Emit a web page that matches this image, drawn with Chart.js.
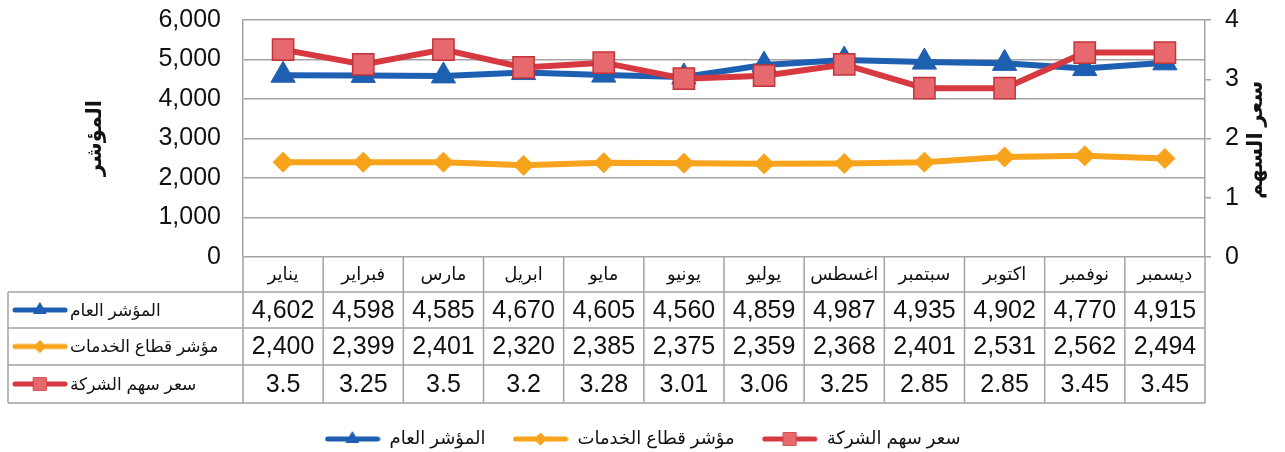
<!DOCTYPE html>
<html><head><meta charset="utf-8">
<script src="https://cdn.jsdelivr.net/npm/chart.js@4.4.1/dist/chart.umd.min.js"></script>
<style>html,body{margin:0;padding:0;background:#fff}#w{width:1285px;height:452px}</style>
</head><body><div id="w"><canvas id="c" width="1285" height="452"></canvas></div>
<script>
const months = ['يناير','فبراير','مارس','ابريل','مايو','يونيو','يوليو','اغسطس','سبتمبر','اكتوبر','نوفمبر','ديسمبر'];
const generalIndex = [4602,4598,4585,4670,4605,4560,4859,4987,4935,4902,4770,4915];
const servicesIndex = [2400,2399,2401,2320,2385,2375,2359,2368,2401,2531,2562,2494];
const sharePrice = [3.5,3.25,3.5,3.2,3.28,3.01,3.06,3.25,2.85,2.85,3.45,3.45];
const seriesNames = ['المؤشر العام','مؤشر قطاع الخدمات','سعر سهم الشركة'];
const leftTitle = 'المؤشر';
const rightTitle = 'سعر السهم';
const leftRange = [0, 6000, 1000];
const rightRange = [0, 4, 1];

const FONT = '"Liberation Sans", Arial, "DejaVu Sans", sans-serif';
const BLUE = '#1d5fb0', ORANGE = '#f7a31c', RED = '#d6393f';
const RED_FILL = '#e5696d', RED_EDGE = '#c3333a';
const GRID = '#a3a3a3';
const PLOT_TOP = 20;

function makeIconStyled(color, style, r, fill, edge) {
  const cv = document.createElement('canvas');
  cv.width = 56; cv.height = 22;
  const g = cv.getContext('2d');
  g.strokeStyle = color; g.lineWidth = 5; g.lineCap = 'round';
  g.beginPath(); g.moveTo(3, 11); g.lineTo(53, 11); g.stroke();
  g.fillStyle = fill; g.strokeStyle = edge; g.lineWidth = 1;
  Chart.helpers.drawPoint(g, {pointStyle: style, radius: r, borderWidth: 1}, 28, 11);
  g.fill();
  return cv;
}
function iconFor(i) {
  if (i === 0) return makeIconStyled(BLUE, 'triangle', 7, BLUE, BLUE);
  if (i === 1) return makeIconStyled(ORANGE, 'rectRot', 6, ORANGE, ORANGE);
  return makeIconStyled(RED, 'rect', 9, RED_FILL, RED_EDGE);
}
const icons = [0,1,2].map(iconFor);

const topFix = {
  id: 'topFix',
  afterLayout(chart) {
    ['y', 'y1'].forEach(id => {
      const s = chart.scales[id];
      s.top = PLOT_TOP; s.height = s.bottom - PLOT_TOP; s.configure();
    });
    chart.chartArea.top = PLOT_TOP;
    chart.chartArea.height = chart.chartArea.bottom - PLOT_TOP;
  }
};

const tablePlugin = {
  id: 'dataTable',
  afterDraw(chart) {
    const ctx = chart.ctx, x = chart.scales.x, ca = chart.chartArea;
    const n = months.length;
    const cw = x.getPixelForValue(1) - x.getPixelForValue(0);
    const L = x.getPixelForValue(0) - cw / 2, R = x.getPixelForValue(n - 1) + cw / 2;
    const b = ca.bottom;
    const rows = [b, b + 35, b + 71, b + 108, b + 146];
    const TL = 8;
    ctx.save();
    ctx.strokeStyle = GRID; ctx.lineWidth = 1.5;
    ctx.beginPath();
    for (let k = 1; k < rows.length; k++) { ctx.moveTo(TL, rows[k]); ctx.lineTo(R, rows[k]); }
    for (let i = 0; i <= n; i++) { const xx = L + i * cw; ctx.moveTo(xx, rows[0]); ctx.lineTo(xx, rows[4]); }
    ctx.moveTo(TL, rows[1]); ctx.lineTo(TL, rows[4]);
    ctx.stroke();
    ctx.fillStyle = '#111';
    ctx.textAlign = 'center'; ctx.textBaseline = 'middle';
    ctx.font = '18px ' + FONT;
    months.forEach((m, i) => ctx.fillText(m, x.getPixelForValue(i), (rows[0] + rows[1]) / 2 + 1));
    const vals = [generalIndex, servicesIndex, sharePrice];
    ctx.font = '25px ' + FONT;
    vals.forEach((arr, r) => {
      const yy = (rows[r + 1] + rows[r + 2]) / 2 + 1;
      arr.forEach((v, i) => ctx.fillText(v.toLocaleString('en-US'), x.getPixelForValue(i), yy));
    });
    ctx.textAlign = 'left';
    ctx.font = '17px ' + FONT;
    seriesNames.forEach((s, r) => {
      const yy = (rows[r + 1] + rows[r + 2]) / 2;
      ctx.drawImage(icons[r], 12, yy - 11);
      ctx.fillText(s, 70, yy + 1);
    });
    ctx.font = 'bold 21px ' + FONT;
    ctx.textAlign = 'center';
    ctx.save(); ctx.translate(95, 138); ctx.rotate(-Math.PI / 2); ctx.fillText(leftTitle, 0, 0); ctx.restore();
    ctx.save(); ctx.translate(1256, 140); ctx.rotate(-Math.PI / 2); ctx.fillText(rightTitle, 0, 0); ctx.restore();
    ctx.restore();
  }
};

new Chart(document.getElementById('c'), {
  type: 'line',
  data: {
    labels: months,
    datasets: [
      {label: seriesNames[0], data: generalIndex, yAxisID: 'y', borderColor: BLUE, backgroundColor: BLUE,
       borderWidth: 6, pointStyle: 'triangle', pointRadius: 14, pointBorderWidth: 1, order: 2},
      {label: seriesNames[1], data: servicesIndex, yAxisID: 'y', borderColor: ORANGE, backgroundColor: ORANGE,
       borderWidth: 6, pointStyle: 'rectRot', pointRadius: 10, pointBorderWidth: 1, order: 1},
      {label: seriesNames[2], data: sharePrice, yAxisID: 'y1', borderColor: RED, backgroundColor: RED_FILL,
       pointBorderColor: RED_EDGE, borderWidth: 6, pointStyle: 'rect', pointRadius: 15, pointBorderWidth: 1.5, order: 0}
    ]
  },
  options: {
    responsive: false, animation: false, locale: 'en-US',
    layout: {padding: {top: 5, left: 0, right: 0, bottom: -6}},
    plugins: {
      tooltip: {enabled: false},
      legend: {
        position: 'bottom',
        labels: {
          usePointStyle: true, pointStyleWidth: 56, padding: 27, color: '#111',
          font: {size: 18, family: FONT},
          generateLabels(chart) {
            const items = Chart.defaults.plugins.legend.labels.generateLabels(chart);
            items.forEach(it => { it.pointStyle = icons[it.datasetIndex]; });
            return items.sort((a, b) => a.datasetIndex - b.datasetIndex);
          }
        }
      }
    },
    scales: {
      x: {type: 'category', offset: true, grid: {display: false}, border: {display: false},
          ticks: {display: false}, afterFit(s) { s.height = 146; }},
      y: {position: 'left', min: leftRange[0], max: leftRange[1],
          ticks: {stepSize: leftRange[2], padding: 22, color: '#111', font: {size: 25, family: FONT}},
          grid: {color: GRID, lineWidth: 1.5, drawTicks: false},
          border: {display: true, color: GRID, width: 1.5},
          afterFit(s) { s.width = 243; }},
      y1: {position: 'right', min: rightRange[0], max: rightRange[1],
           ticks: {stepSize: rightRange[2], padding: 14, color: '#111', font: {size: 25, family: FONT}},
           grid: {drawOnChartArea: false, color: GRID, lineWidth: 1.5, tickLength: 6},
           border: {display: true, color: GRID, width: 1.5},
           afterFit(s) { s.width = 80; }}
    }
  },
  plugins: [topFix, tablePlugin]
});
</script>
</body></html>
